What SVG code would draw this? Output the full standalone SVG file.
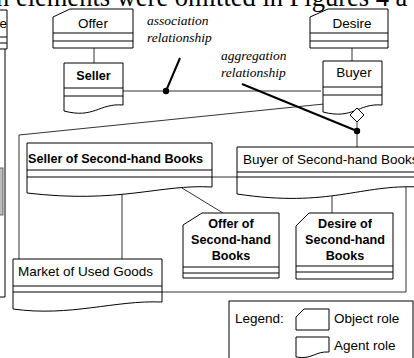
<svg xmlns="http://www.w3.org/2000/svg" width="414" height="358" viewBox="0 0 414 358">
<style>
.box{fill:#fff;stroke:#000;stroke-width:1}
.div{stroke:#000;stroke-width:1;fill:none}
.con{stroke:#333;stroke-width:1;fill:none}
.thick{stroke:#000;stroke-width:2;fill:none}
.lbl{font-family:"Liberation Sans",Arial,sans-serif;font-size:13.5px;fill:#000}
.b{font-weight:bold;font-size:12.6px}
.it{font-family:"Liberation Serif","Times New Roman",serif;font-style:italic;font-size:13.5px;fill:#000}
.mid{text-anchor:middle}
</style>
<rect width="414" height="358" fill="#fff"/>
<text x="-4" y="6" font-family="Liberation Serif, serif" font-size="26.5" fill="#000">n elements were omitted in Figures 4 a</text>
<g id="left-fragment">
<path class="div" d="M0,10 H7 V49 H0 M0,37 H7 M0,43 H7 M5,49 V297 H0"/>
<text class="lbl" x="7" y="28" text-anchor="end">e</text>
<rect x="-2" y="168" width="5" height="47" fill="#bbb" stroke="#666"/>
</g>
<g id="connectors">
<line class="con" x1="94" y1="48" x2="94" y2="63"/>
<line class="con" x1="352" y1="48" x2="352" y2="61"/>
<line class="con" x1="123" y1="91" x2="321" y2="91"/>
<circle cx="166" cy="91" r="3.2" fill="#000"/>
<line class="thick" x1="166" y1="91" x2="180" y2="58"/>
<polyline class="con" points="19,259 19,135 324,104"/>
<line class="thick" x1="242" y1="84" x2="357" y2="131"/>
<line class="con" x1="357" y1="120" x2="357" y2="148"/>
<circle cx="357" cy="131" r="3.2" fill="#000"/>
<line class="con" x1="212" y1="177" x2="237" y2="177"/>
<line class="con" x1="122" y1="190" x2="122" y2="259"/>
<line class="con" x1="182" y1="188" x2="223" y2="213"/>
<line class="con" x1="332" y1="190" x2="332" y2="213"/>
<polyline class="con" points="406,185 406,292 162,292"/>
</g>
<g id="offer">
<path class="box" d="M53,17 L70,9 H133 V48 H53 Z"/>
<path class="div" d="M53,33 H133 M53,41 H133"/>
<text class="lbl mid" x="93" y="28">Offer</text>
</g>
<g id="desire">
<path class="box" d="M310,17 L328,9 H388 V48 H310 Z"/>
<path class="div" d="M310,33 H388 M310,41 H388"/>
<text class="lbl mid" x="352" y="28">Desire</text>
</g>
<g id="seller">
<path class="box" d="M64,63 H123 V105 C99,103 94,119 64,111 Z"/>
<path class="div" d="M64,88 H123 M64,96 H123"/>
<text class="lbl b mid" x="93.5" y="80">Seller</text>
</g>
<g id="buyer">
<path class="box" d="M323,61 H382 V105 C358,103 353,120 323,112 Z"/>
<path class="div" d="M323,87 H382 M323,95 H382"/>
<text class="lbl mid" x="354" y="77">Buyer</text>
</g>
<g id="aggregation-diamond">
<path d="M357,108 L364,115 L357,122 L350,115 Z" fill="#fff" stroke="#000"/>
</g>
<g id="seller-shb">
<path class="box" d="M27,143 H212 V187 C160,184 120,204 27,193 Z"/>
<path class="div" d="M27,170 H212 M27,177 H212"/>
<text class="lbl b" x="28" y="163">Seller of Second-hand Books</text>
</g>
<g id="buyer-shb">
<path class="box" d="M237,147 H420 V187 C360,184 330,208 237,194 Z"/>
<path class="div" d="M237,172 H420 M237,177 H420"/>
<text class="lbl" x="243" y="164">Buyer of Second-hand Books</text>
</g>
<g id="offer-shb">
<path class="box" d="M183,225 L202,213 H279 V278 H183 Z"/>
<path class="div" d="M183,267 H279 M183,273 H279"/>
<text class="lbl b mid" x="231" y="228">Offer of</text>
<text class="lbl b mid" x="231" y="244">Second-hand</text>
<text class="lbl b mid" x="231" y="260">Books</text>
</g>
<g id="desire-shb">
<path class="box" d="M296,226 L309,213 H393 V279 H296 Z"/>
<path class="div" d="M296,266 H393 M296,272 H393"/>
<text class="lbl b mid" x="345" y="228">Desire of</text>
<text class="lbl b mid" x="345" y="244">Second-hand</text>
<text class="lbl b mid" x="345" y="260">Books</text>
</g>
<g id="market">
<path class="box" d="M13,259 H162 V302 C115,300 70,317 13,309 Z"/>
<path class="div" d="M13,286 H162 M13,292 H162"/>
<text class="lbl" x="18" y="276">Market of Used Goods</text>
</g>
<g id="labels">
<text class="it" x="147" y="25">association</text>
<text class="it" x="147" y="42">relationship</text>
<text class="it" x="221" y="60">aggregation</text>
<text class="it" x="221" y="77">relationship</text>
</g>
<g id="legend">
<rect class="box" x="229" y="301" width="184" height="70"/>
<text class="lbl" x="235" y="323">Legend:</text>
<path class="box" d="M296,317 L304,309 H329 V330 H296 Z"/>
<text class="lbl" x="334" y="323">Object role</text>
<path class="box" d="M296,337 H329 V352 C315,351 312,360 296,357 Z"/>
<text class="lbl" x="334" y="350">Agent role</text>
</g>
</svg>
